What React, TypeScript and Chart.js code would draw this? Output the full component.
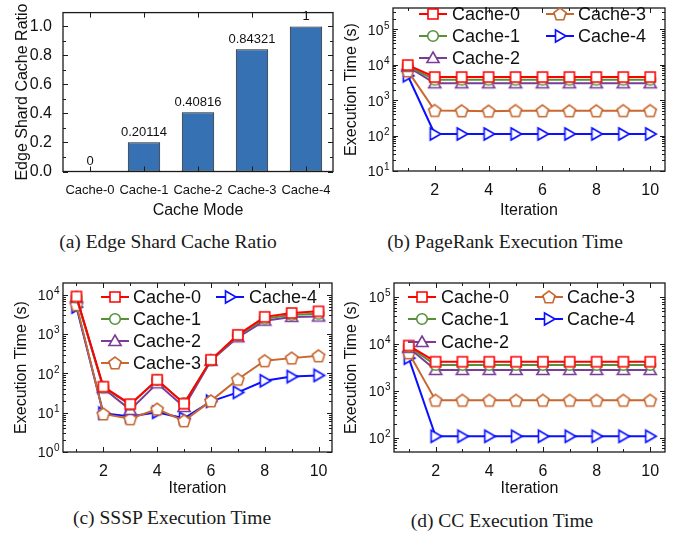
import React, { useEffect, useRef } from 'react';
import { Chart, registerables } from 'chart.js';

Chart.register(...registerables);

const SANS = '"Liberation Sans", Arial, sans-serif';
const SERIF = '"Liberation Serif", "Times New Roman", serif';
const INK = '#111111';

// ---------------- data ----------------
const cacheModes = ['Cache-0', 'Cache-1', 'Cache-2', 'Cache-3', 'Cache-4'];
const cacheRatio = [0, 0.20114, 0.40816, 0.84321, 1];
const cacheRatioLabels = ['0', '0.20114', '0.40816', '0.84321', '1'];
const iterations = [1, 2, 3, 4, 5, 6, 7, 8, 9, 10];

const prCache0 = [9800, 4500, 4500, 4500, 4500, 4500, 4500, 4500, 4500, 4500];
const prCache1 = [9200, 3800, 3800, 3800, 3800, 3800, 3800, 3800, 3800, 3800];
const prCache2 = [8800, 3000, 3000, 3000, 3000, 3000, 3000, 3000, 3000, 3000];
const prCache3 = [6700, 510, 500, 490, 505, 500, 500, 500, 505, 505];
const prCache4 = [4900, 111, 111, 111, 111, 111, 111, 111, 111, 111];

const ssspCache0 = [9100, 46, 16.5, 69, 17, 222, 960, 2750, 3460, 3800];
const ssspCache1 = [8600, 44, 16, 68, 17.5, 215, 930, 2470, 3100, 3300];
const ssspCache2 = [8500, 42, 11.8, 56, 14, 210, 830, 2200, 2740, 2800];
const ssspCache3 = [5600, 9.3, 7, 12.3, 6.2, 20, 71, 210, 245, 280];
const ssspCache4 = [4900, 9.7, 8, 10.3, 7.2, 19.5, 33, 65, 83, 89];

const ccCache0 = [9300, 4200, 4200, 4200, 4200, 4200, 4200, 4200, 4200, 4200];
const ccCache1 = [8800, 3580, 3580, 3580, 3580, 3580, 3580, 3580, 3580, 3580];
const ccCache2 = [8300, 2800, 2800, 2800, 2800, 2800, 2800, 2800, 2800, 2800];
const ccCache3 = [6500, 630, 630, 630, 630, 630, 630, 630, 630, 630];
const ccCache4 = [5000, 108, 108, 108, 108, 108, 108, 108, 108, 108];

const ratioTicks = [0, 0.2, 0.4, 0.6, 0.8, 1.0];
const ratioMinorTicks = [0.1, 0.3, 0.5, 0.7, 0.9];
const iterTicks = [2, 4, 6, 8, 10];
const iterMinorTicks = [1, 3, 5, 7, 9];
const prExps = [1, 2, 3, 4, 5];
const ssspExps = [0, 1, 2, 3, 4];
const ccExps = [2, 3, 4, 5];

// ---------------- styles ----------------
const seriesColors = ['#ff0000', '#58903a', '#7b3c98', '#c8672e', '#0a10ff'];
const markerKinds = ['square', 'circle', 'triangle', 'pentagon', 'triRight'];

type Box = {
  left: number; top: number; width: number; height: number;
  x0: number; y0: number; x1: number; y1: number; yTitleX: number;
};

type LegendPos = { i: number; mx: number; my: number; tx: number };

function makeMarker(kind: string, color: string): HTMLCanvasElement {
  const S = 16;
  const c = document.createElement('canvas');
  c.width = S; c.height = S;
  const g = c.getContext('2d')!;
  const m = S / 2;
  g.lineWidth = 1.6;
  g.strokeStyle = color;
  g.fillStyle = '#ffffff';
  g.beginPath();
  const poly = (r: number, n: number, start: number, dx = 0, dy = 0) => {
    for (let k = 0; k < n; k++) {
      const a = ((start + (360 / n) * k) * Math.PI) / 180;
      const px = m + dx + r * Math.cos(a);
      const py = m + dy + r * Math.sin(a);
      if (k === 0) g.moveTo(px, py); else g.lineTo(px, py);
    }
    g.closePath();
  };
  if (kind === 'square') g.rect(m - 5, m - 5, 10, 10);
  else if (kind === 'circle') g.arc(m, m, 5.3, 0, Math.PI * 2);
  else if (kind === 'triangle') poly(7, 3, -90, 0, 1);
  else if (kind === 'pentagon') poly(6.4, 5, -90, 0, 0.5);
  else poly(7, 3, 0, -1, 0);
  g.fill();
  g.stroke();
  return c;
}

function logMinor(min: number, max: number): number[] {
  const out: number[] = [];
  for (let e = Math.floor(Math.log10(min)); e <= Math.ceil(Math.log10(max)); e++) {
    for (let k = 2; k <= 9; k++) {
      const v = k * Math.pow(10, e);
      if (v > min && v < max) out.push(v);
    }
  }
  return out;
}

type FrameOpt = {
  box: Box;
  xMajor: number[]; xMinor: number[]; yMajor: number[]; yMinor: number[];
  logExps?: number[];
  legend?: LegendPos[];
  markers?: HTMLCanvasElement[];
  barLabels?: string[];
};

function makeFramePlugin(opt: FrameOpt) {
  return {
    id: 'frame',
    afterDraw(chart: any) {
      const ctx: CanvasRenderingContext2D = chart.ctx;
      const a = chart.chartArea;
      const xs = chart.scales.x;
      const ys = chart.scales.y;
      ctx.save();
      if (opt.barLabels) {
        const meta = chart.getDatasetMeta(0);
        ctx.fillStyle = INK;
        ctx.font = `13px ${SANS}`;
        ctx.textAlign = 'center';
        ctx.textBaseline = 'middle';
        meta.data.forEach((el: any, i: number) => {
          ctx.fillText(opt.barLabels![i], el.x, el.y - 10);
        });
      }
      ctx.strokeStyle = '#1b1b1b';
      ctx.lineWidth = 1;
      ctx.beginPath();
      const vt = (v: number, len: number) => {
        const p = Math.round(xs.getPixelForValue(v)) + 0.5;
        ctx.moveTo(p, a.bottom); ctx.lineTo(p, a.bottom - len);
        ctx.moveTo(p, a.top); ctx.lineTo(p, a.top + len);
      };
      const ht = (v: number, len: number) => {
        const p = Math.round(ys.getPixelForValue(v)) + 0.5;
        ctx.moveTo(a.left, p); ctx.lineTo(a.left + len, p);
        ctx.moveTo(a.right, p); ctx.lineTo(a.right - len, p);
      };
      opt.xMajor.forEach((v) => vt(v, 5));
      opt.xMinor.forEach((v) => vt(v, 3));
      opt.yMajor.forEach((v) => ht(v, 5));
      opt.yMinor.forEach((v) => ht(v, 3));
      ctx.stroke();
      ctx.lineWidth = 1.3;
      ctx.strokeRect(a.left, a.top, a.right - a.left, a.bottom - a.top);
      if (opt.logExps) {
        ctx.fillStyle = INK;
        ctx.textBaseline = 'middle';
        ctx.textAlign = 'left';
        for (const e of opt.logExps) {
          const y = ys.getPixelForValue(Math.pow(10, e));
          ctx.font = `14px ${SANS}`;
          const w1 = ctx.measureText('10').width;
          ctx.font = `10px ${SANS}`;
          const w2 = ctx.measureText(String(e)).width;
          const x0 = a.left - 4 - w1 - w2;
          ctx.font = `14px ${SANS}`;
          ctx.fillText('10', x0, y + 1.5);
          ctx.font = `10px ${SANS}`;
          ctx.fillText(String(e), x0 + w1 + 0.5, y - 3.5);
        }
      }
      if (opt.legend && opt.markers) {
        for (const it of opt.legend) {
          const mx = it.mx - opt.box.left;
          const my = it.my - opt.box.top;
          ctx.strokeStyle = seriesColors[it.i];
          ctx.lineWidth = 2;
          ctx.beginPath();
          ctx.moveTo(mx - 14, my); ctx.lineTo(mx + 14, my);
          ctx.stroke();
          const mk = opt.markers[it.i];
          ctx.drawImage(mk, mx - mk.width / 2, my - mk.height / 2);
          ctx.fillStyle = INK;
          ctx.font = `18px ${SANS}`;
          ctx.textAlign = 'left';
          ctx.textBaseline = 'middle';
          ctx.fillText(cacheModes[it.i], it.tx - opt.box.left, my + 1);
        }
      }
      ctx.restore();
    },
  };
}

function layoutFor(box: Box) {
  return {
    padding: { left: 0, top: box.y0 - box.top, right: box.left + box.width - box.x1, bottom: 0 },
  };
}

const boxA: Box = { left: 0, top: 0, width: 340, height: 220, x0: 63, y0: 3, x1: 333, y1: 171.5, yTitleX: 23 };
const boxB: Box = { left: 340, top: 0, width: 343, height: 220, x0: 393, y0: 3, x1: 665, y1: 171, yTitleX: 352 };
const boxC: Box = { left: 0, top: 270, width: 340, height: 228, x0: 63, y0: 283, x1: 333, y1: 452, yTitleX: 22 };
const boxD: Box = { left: 340, top: 270, width: 343, height: 228, x0: 394, y0: 283, x1: 665, y1: 452, yTitleX: 352 };

function barConfig(): any {
  const box = boxA;
  return {
    type: 'bar',
    data: {
      labels: cacheModes,
      datasets: [
        {
          data: cacheRatio,
          backgroundColor: '#3672b3',
          borderColor: '#1e1e1e',
          borderWidth: 1,
          borderSkipped: false,
          barPercentage: 0.6,
          categoryPercentage: 1,
        },
      ],
    },
    options: {
      responsive: false,
      animation: false,
      devicePixelRatio: 1,
      layout: layoutFor(box),
      plugins: { legend: { display: false }, tooltip: { enabled: false }, title: { display: false } },
      scales: {
        x: {
          type: 'category',
          offset: true,
          grid: { display: false },
          border: { display: false },
          ticks: { font: { size: 13, family: SANS }, color: INK, padding: 3, maxRotation: 0, autoSkip: false },
          title: { display: true, text: 'Cache Mode', font: { size: 16, family: SANS }, color: INK, padding: { top: 0, bottom: 0 } },
          afterFit: (s: any) => { s.height = box.top + box.height - box.y1; },
        },
        y: {
          type: 'linear',
          min: 0,
          max: 1.095,
          grid: { display: false },
          border: { display: false },
          afterBuildTicks: (s: any) => { s.ticks = ratioTicks.map((v) => ({ value: v })); },
          ticks: { font: { size: 16, family: SANS }, color: INK, padding: 3, callback: (v: any) => Number(v).toFixed(1) },
          title: { display: true, text: 'Edge Shard Cache Ratio', font: { size: 16, family: SANS }, color: INK, padding: { top: box.yTitleX - box.left - 9.6, bottom: 0 } },
          afterFit: (s: any) => { s.width = box.x0 - box.left; },
        },
      },
    },
    plugins: [
      makeFramePlugin({
        box,
        xMajor: [0, 1, 2, 3, 4],
        xMinor: [],
        yMajor: ratioTicks,
        yMinor: ratioMinorTicks,
        barLabels: cacheRatioLabels,
      }),
    ],
  };
}

function lineConfig(
  box: Box, series: number[][], yMin: number, yMax: number, exps: number[],
  xMin: number, xMax: number, legend: LegendPos[],
): any {
  const markers = markerKinds.map((k, i) => makeMarker(k, seriesColors[i]));
  const datasets = series.map((d, i) => ({
    label: cacheModes[i],
    data: d.map((v, j) => ({ x: iterations[j], y: v })),
    borderColor: seriesColors[i],
    backgroundColor: seriesColors[i],
    borderWidth: 2,
    pointStyle: markers[i],
    pointRadius: 6,
    pointHoverRadius: 6,
    fill: false,
    tension: 0,
  }));
  return {
    type: 'line',
    data: { datasets },
    options: {
      responsive: false,
      animation: false,
      devicePixelRatio: 1,
      layout: layoutFor(box),
      plugins: { legend: { display: false }, tooltip: { enabled: false }, title: { display: false } },
      scales: {
        x: {
          type: 'linear',
          min: xMin,
          max: xMax,
          grid: { display: false },
          border: { display: false },
          afterBuildTicks: (s: any) => { s.ticks = iterTicks.map((v) => ({ value: v })); },
          ticks: { font: { size: 16, family: SANS }, color: INK, padding: 2, maxRotation: 0, callback: (v: any) => String(v) },
          title: { display: true, text: 'Iteration', font: { size: 16, family: SANS }, color: INK, padding: { top: 0, bottom: 0 } },
          afterFit: (s: any) => { s.height = box.top + box.height - box.y1; },
        },
        y: {
          type: 'logarithmic',
          min: yMin,
          max: yMax,
          grid: { display: false },
          border: { display: false },
          afterBuildTicks: (s: any) => { s.ticks = exps.map((e) => ({ value: Math.pow(10, e) })); },
          ticks: { display: false },
          title: { display: true, text: 'Execution Time (s)', font: { size: 16, family: SANS }, color: INK, padding: { top: box.yTitleX - box.left - 9.6, bottom: 0 } },
          afterFit: (s: any) => { s.width = box.x0 - box.left; },
        },
      },
    },
    plugins: [
      makeFramePlugin({
        box,
        xMajor: iterTicks,
        xMinor: iterMinorTicks,
        yMajor: exps.map((e) => Math.pow(10, e)),
        yMinor: logMinor(yMin, yMax),
        logExps: exps,
        legend,
        markers,
      }),
    ],
  };
}

function ChartBox({ box, make }: { box: Box; make: () => any }) {
  const ref = useRef<HTMLCanvasElement>(null);
  useEffect(() => {
    const chart = new Chart(ref.current as HTMLCanvasElement, make());
    return () => chart.destroy();
  }, []);
  return (
    <canvas
      ref={ref}
      width={box.width}
      height={box.height}
      style={{ position: 'absolute', left: box.left, top: box.top, width: box.width, height: box.height }}
    />
  );
}

function Caption({ text, cx, cy }: { text: string; cx: number; cy: number }) {
  return (
    <div
      style={{
        position: 'absolute', left: cx - 170, top: cy - 12, width: 340, height: 24, lineHeight: '24px',
        textAlign: 'center', fontFamily: SERIF, fontSize: 19.5, color: '#1a1a1a', whiteSpace: 'nowrap',
      }}
    >
      {text}
    </div>
  );
}

export default function App() {
  const legendB: LegendPos[] = [
    { i: 0, mx: 433, my: 14, tx: 452 },
    { i: 1, mx: 433, my: 36, tx: 452 },
    { i: 2, mx: 433, my: 58, tx: 452 },
    { i: 3, mx: 560, my: 14, tx: 578 },
    { i: 4, mx: 560, my: 36, tx: 578 },
  ];
  const legendC: LegendPos[] = [
    { i: 0, mx: 115, my: 297, tx: 133 },
    { i: 1, mx: 115, my: 319, tx: 133 },
    { i: 2, mx: 115, my: 341, tx: 133 },
    { i: 3, mx: 115, my: 363, tx: 133 },
    { i: 4, mx: 230, my: 297, tx: 249 },
  ];
  const legendD: LegendPos[] = [
    { i: 0, mx: 422, my: 297, tx: 441 },
    { i: 1, mx: 422, my: 319, tx: 441 },
    { i: 2, mx: 422, my: 342, tx: 441 },
    { i: 3, mx: 549, my: 297, tx: 567 },
    { i: 4, mx: 549, my: 319, tx: 567 },
  ];
  return (
    <div style={{ position: 'absolute', left: 0, top: 0, width: 683, height: 540, background: '#ffffff', overflow: 'hidden' }}>
      <ChartBox box={boxA} make={barConfig} />
      <ChartBox
        box={boxB}
        make={() => lineConfig(boxB, [prCache0, prCache1, prCache2, prCache3, prCache4], 10, 4e5, prExps, 0.45, 10.55, legendB)}
      />
      <ChartBox
        box={boxC}
        make={() => lineConfig(boxC, [ssspCache0, ssspCache1, ssspCache2, ssspCache3, ssspCache4], 1, 2e4, ssspExps, 0.5, 10.5, legendC)}
      />
      <ChartBox
        box={boxD}
        make={() => lineConfig(boxD, [ccCache0, ccCache1, ccCache2, ccCache3, ccCache4], 50, 2e5, ccExps, 0.45, 10.55, legendD)}
      />
      <Caption text="(a) Edge Shard Cache Ratio" cx={168} cy={242} />
      <Caption text="(b) PageRank Execution Time" cx={505} cy={242} />
      <Caption text="(c) SSSP Execution Time" cx={172} cy={518} />
      <Caption text="(d) CC Execution Time" cx={502} cy={521} />
    </div>
  );
}
